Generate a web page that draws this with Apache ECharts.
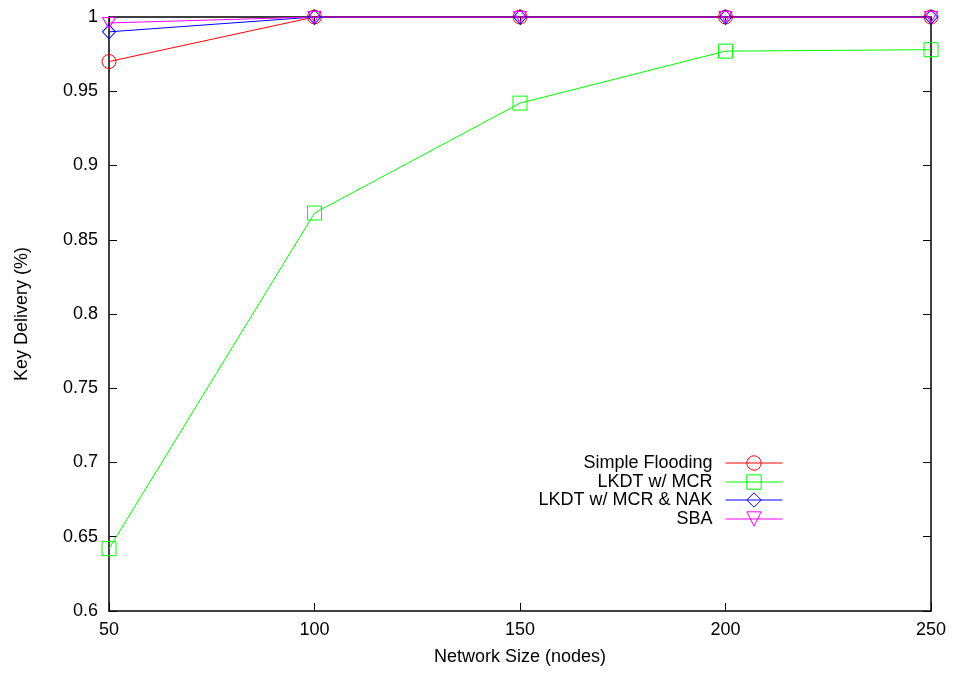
<!DOCTYPE html>
<html>
<head>
<meta charset="utf-8">
<script src="https://cdn.jsdelivr.net/npm/echarts@6/dist/echarts.min.js"></script>
<style>
  html, body { margin: 0; padding: 0; background: #fff; }
  #chart { width: 955px; height: 673px; }
</style>
</head>
<body>
<div id="chart"></div>
<script>
// Network sizes (nodes) on the x axis
const networkSizes = [50, 100, 150, 200, 250];

// Key delivery ratio per protocol
const simpleFlooding = [0.970, 1.0, 1.0, 1.0, 1.0];
const lkdtMcr = [0.642, 0.868, 0.942, 0.977, 0.978];
const lkdtMcrNak = [0.990, 1.0, 1.0, 1.0, 1.0];
const sba = [0.996, 1.0, 1.0, 1.0, 1.0];

const seriesNames = ['Simple Flooding', 'LKDT w/ MCR', 'LKDT w/ MCR & NAK', 'SBA'];

const FONT = 'Liberation Sans, Arial, sans-serif';

function pairs(values) {
  return networkSizes.map((x, i) => [x, values[i]]);
}

function makeSeries(name, values, color, symbol, size, rotate) {
  return {
    name: name,
    type: 'line',
    data: pairs(values),
    symbol: symbol,
    symbolSize: size,
    symbolRotate: rotate || 0,
    showAllSymbol: true,
    lineStyle: { color: color, width: 1 },
    itemStyle: { color: 'rgba(0,0,0,0)', borderColor: color, borderWidth: 1 },
    emphasis: { disabled: true },
    animation: false,
    z: 3
  };
}

const tickStyle = { show: true, inside: true, length: 8, lineStyle: { color: '#000', width: 1 } };
const lineStyleAxis = { show: true, lineStyle: { color: '#000', width: 1.5 } };

// One legend block per series so that all samples share the same right edge
const legendRows = [463, 482, 500, 519];
const legends = seriesNames.map((n, i) => ({
  data: [n],
  orient: 'vertical',
  align: 'right',
  right: 172,
  top: legendRows[i] - 9,
  padding: 0,
  itemWidth: 57,
  itemHeight: 18,
  selectedMode: false,
  lineStyle: { width: 1 },
  itemStyle: { borderWidth: 1 },
  textStyle: { fontFamily: FONT, fontSize: 18, color: '#000', padding: [0, 8, 0, 0] }
}));

const chart = echarts.init(document.getElementById('chart'), null, { renderer: 'canvas' });
chart.setOption({
  backgroundColor: '#fff',
  animation: false,
  grid: { left: 109, right: 24, top: 17, bottom: 62, containLabel: false },
  legend: legends,
  xAxis: [{
    type: 'value',
    min: 50, max: 250, interval: 50,
    name: 'Network Size (nodes)',
    nameLocation: 'middle',
    nameGap: 37,
    nameTextStyle: { fontFamily: FONT, fontSize: 18, color: '#000' },
    axisLine: lineStyleAxis,
    axisTick: tickStyle,
    axisLabel: { fontFamily: FONT, fontSize: 18, color: '#000', margin: 10 },
    splitLine: { show: false }
  }, {
    type: 'value',
    position: 'top',
    min: 50, max: 250, interval: 50,
    axisLine: lineStyleAxis,
    axisTick: tickStyle,
    axisLabel: { show: false },
    splitLine: { show: false }
  }],
  yAxis: [{
    type: 'value',
    min: 0.6, max: 1.0, interval: 0.05,
    name: 'Key Delivery (%)',
    nameLocation: 'middle',
    nameGap: 78,
    nameTextStyle: { fontFamily: FONT, fontSize: 18, color: '#000' },
    axisLine: lineStyleAxis,
    axisTick: tickStyle,
    axisLabel: {
      fontFamily: FONT, fontSize: 18, color: '#000', margin: 11,
      formatter: v => String(parseFloat(v.toFixed(2)))
    },
    splitLine: { show: false }
  }, {
    type: 'value',
    position: 'right',
    min: 0.6, max: 1.0, interval: 0.05,
    axisLine: lineStyleAxis,
    axisTick: tickStyle,
    axisLabel: { show: false },
    splitLine: { show: false }
  }],
  series: [
    makeSeries(seriesNames[0], simpleFlooding, '#ff0000', 'circle', 14),
    makeSeries(seriesNames[1], lkdtMcr, '#00ff00', 'rect', 14),
    makeSeries(seriesNames[2], lkdtMcrNak, '#0000ff', 'diamond', [13, 14]),
    makeSeries(seriesNames[3], sba, '#ff00ff', 'triangle', [13, 11], 180)
  ]
});
</script>
</body>
</html>
